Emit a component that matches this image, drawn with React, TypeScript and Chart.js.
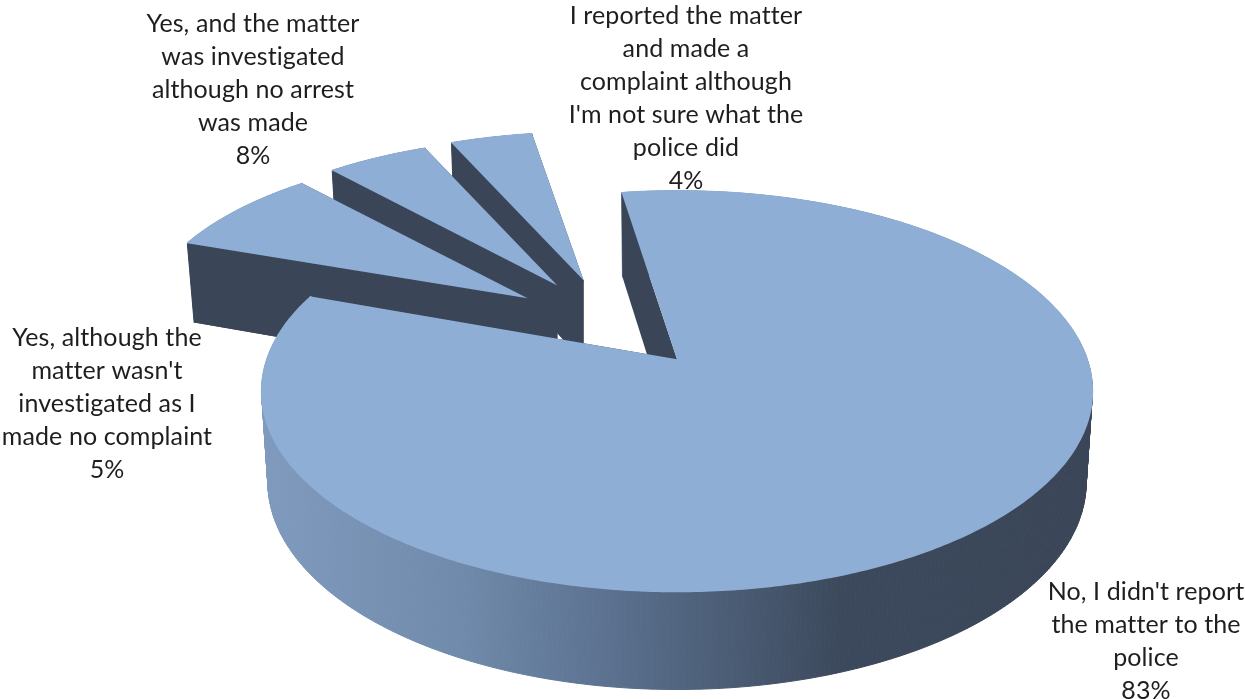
import React, { useEffect, useRef } from "react";
import { Chart, registerables } from "chart.js";

Chart.register(...registerables);

const categories = [
  "No, I didn't report the matter to the police",
  "Yes, and the matter was investigated although no arrest was made",
  "Yes, although the matter wasn't investigated as I made no complaint",
  "I reported the matter and made a complaint although I'm not sure what the police did",
];
const values = [83, 8, 5, 4];
const labelLines = [
  ["No, I didn't report", "the matter to the", "police"],
  ["Yes, and the matter", "was investigated", "although no arrest", "was made"],
  ["Yes, although the", "matter wasn't", "investigated as I", "made no complaint"],
  ["I reported the matter", "and made a", "complaint although", "I'm not sure what the", "police did"],
];
const labelCentres = [
  { x: 1146, y: 592 },
  { x: 253, y: 24 },
  { x: 107, y: 338 },
  { x: 686, y: 16 },
];
const LINE_HEIGHT = 33;
const TOP_COLOUR = "#8faed5";
const DARK_COLOUR = "#3a4658";
const FONT = '25px Lato, "Open Sans", sans-serif';

// Perspective of the tilted disc
const PERSPECTIVE = 0.16;
const TILT = 0.447;
const mainView = { scale: 1, squash: 0.476, depth: 90, baseScale: 0.985, baseSquash: 0.5 };
const smallView = { scale: 0.93, squash: 0.45, depth: 82, baseScale: 0.98, baseSquash: 0.481 };
const views = [mainView, smallView, smallView, smallView];

function project(disc: any, a: number) {
  const u = Math.cos(a);
  const v = Math.sin(a);
  const w = 1 - PERSPECTIVE * v;
  return { x: disc.x + (disc.A * u) / w, y: disc.y + (disc.B * v) / w };
}

const pie3d = {
  id: "pie3d",
  beforeDatasetsDraw(chart: any) {
    const ctx = chart.ctx;
    const arcs = chart.getDatasetMeta(0).data;
    for (let i = arcs.length - 1; i >= 0; i--) {
      const arc = arcs[i];
      const view = views[i];
      const mid = (arc.startAngle + arc.endAngle) / 2;
      const explode = arc.options.offset / 4;
      const ax = arc.x + explode * Math.cos(mid);
      const ay = arc.y + explode * TILT * Math.sin(mid);
      const Atop = arc.outerRadius * view.scale;
      const top = { x: ax, y: ay, A: Atop, B: Atop * view.squash };
      const Abase = Atop * view.baseScale;
      const base = { x: ax, y: ay + view.depth, A: Abase, B: Abase * view.baseSquash };

      let wallFill: any = DARK_COLOUR;
      if (i === 0) {
        const g = ctx.createLinearGradient(ax - Atop, 0, ax + Atop, 0);
        g.addColorStop(0, "#7f9abd");
        g.addColorStop(0.24, "#708aab");
        g.addColorStop(0.46, "#566b88");
        g.addColorStop(0.7, "#3c495c");
        g.addColorStop(1, DARK_COLOUR);
        wallFill = g;
      }

      const steps = Math.max(8, Math.ceil((arc.endAngle - arc.startAngle) * 90));
      const angleAt = (k: number) => arc.startAngle + ((arc.endAngle - arc.startAngle) * k) / steps;

      // Base wedge of the small slices
      if (i !== 0) {
        ctx.beginPath();
        ctx.moveTo(base.x, base.y);
        for (let k = 0; k <= steps; k++) {
          const p = project(base, angleAt(k));
          ctx.lineTo(p.x, p.y);
        }
        ctx.closePath();
        ctx.fillStyle = DARK_COLOUR;
        ctx.fill();
      }

      // Outer wall
      ctx.fillStyle = wallFill;
      ctx.strokeStyle = wallFill;
      ctx.lineWidth = 1;
      for (let k = 0; k < steps; k++) {
        const a = project(top, angleAt(k));
        const b = project(top, angleAt(k + 1));
        const c = project(base, angleAt(k + 1));
        const d = project(base, angleAt(k));
        ctx.beginPath();
        ctx.moveTo(a.x, a.y);
        ctx.lineTo(b.x, b.y);
        ctx.lineTo(c.x, c.y);
        ctx.lineTo(d.x, d.y);
        ctx.closePath();
        ctx.fill();
        ctx.stroke();
      }

      // Radial walls
      ctx.fillStyle = DARK_COLOUR;
      for (const edge of [arc.startAngle, arc.endAngle]) {
        const a = project(top, edge);
        const b = project(base, edge);
        ctx.beginPath();
        ctx.moveTo(top.x, top.y);
        ctx.lineTo(a.x, a.y);
        ctx.lineTo(b.x, b.y);
        ctx.lineTo(base.x, base.y);
        ctx.closePath();
        ctx.fill();
      }

      // Top face, with its rim covering the seam of the wall behind it
      ctx.beginPath();
      ctx.moveTo(top.x, top.y);
      for (let k = 0; k <= steps; k++) {
        const p = project(top, angleAt(k));
        ctx.lineTo(p.x, p.y);
      }
      ctx.closePath();
      ctx.fillStyle = arc.options.backgroundColor;
      ctx.fill();
      ctx.beginPath();
      for (let k = 0; k <= steps; k++) {
        const p = project(top, angleAt(k));
        if (k === 0) ctx.moveTo(p.x, p.y);
        else ctx.lineTo(p.x, p.y);
      }
      ctx.strokeStyle = arc.options.backgroundColor;
      ctx.lineWidth = 1.6;
      ctx.stroke();
    }
    return false;
  },
  afterDraw(chart: any) {
    const ctx = chart.ctx;
    const data = chart.data.datasets[0].data;
    ctx.save();
    ctx.font = FONT;
    ctx.letterSpacing = "0.1px";
    ctx.fillStyle = "#1e1e1e";
    ctx.textAlign = "center";
    ctx.textBaseline = "middle";
    labelLines.forEach((lines, i) => {
      const all = [...lines, `${data[i]}%`];
      all.forEach((line, j) => {
        ctx.fillText(line, labelCentres[i].x, labelCentres[i].y + j * LINE_HEIGHT);
      });
    });
    ctx.restore();
  },
};

export default function App() {
  const ref = useRef<HTMLCanvasElement | null>(null);
  useEffect(() => {
    document.body.style.margin = "0";
    const chart = new Chart(ref.current as any, {
      type: "pie",
      data: {
        labels: categories,
        datasets: [
          {
            data: values,
            backgroundColor: TOP_COLOUR,
            borderWidth: 0,
            offset: 408,
          } as any,
        ],
      },
      options: {
        responsive: false,
        animation: false,
        events: [],
        rotation: -9,
        radius: 410,
        layout: { padding: { right: 21, bottom: 51 } },
        plugins: { legend: { display: false }, tooltip: { enabled: false } },
      } as any,
      plugins: [pie3d as any],
    });
    return () => chart.destroy();
  }, []);
  return <canvas ref={ref} width={1245} height={699} style={{ display: "block" }} />;
}
